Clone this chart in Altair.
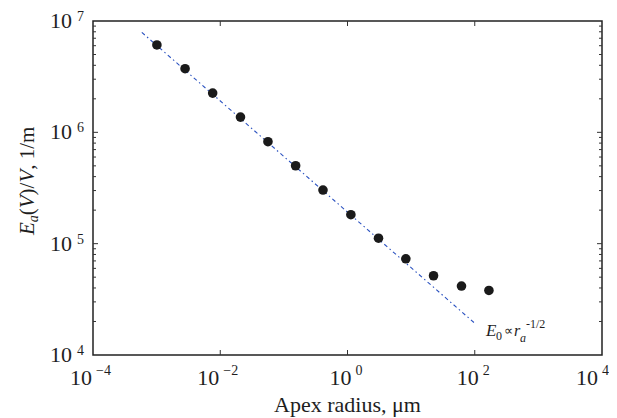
import altair as alt
import pandas as pd

# ---- data ----
radius = [0.00101, 0.0028, 0.0076, 0.0208, 0.0562, 0.153, 0.412, 1.13, 3.07, 8.26, 22.5, 61.9, 167]
field = [6.09e6, 3.73e6, 2.25e6, 1.37e6, 8.24e5, 5.01e5, 3.03e5, 1.82e5, 1.12e5, 7.31e4, 5.15e4, 4.16e4, 3.80e4]
fit_x = [5.85e-4, 103]
fit_y = [7.9e6, 1.9e4]

x_tick_vals = [1e-4, 1e-2, 1, 1e2, 1e4]
x_tick_exps = ["\u22124", "\u22122", "0", "2", "4"]
y_tick_vals = [1e4, 1e5, 1e6, 1e7]
y_tick_exps = ["4", "5", "6", "7"]
x_inner_ticks = [1e-2, 1, 1e2]
y_inner_major = [1e5, 1e6]
y_minor = [m * 10 ** d for d in (4, 5, 6) for m in range(2, 10)]

FONT = "Liberation Serif"
TXT = "#1e1e1e"
W, H = 509, 334

xs = alt.Scale(type="log", domain=[1e-4, 1e4], nice=False)
ys = alt.Scale(type="log", domain=[1e4, 1e7], nice=False)

pts_df = pd.DataFrame({"r": radius, "e": field})
fit_df = pd.DataFrame({"r": fit_x, "e": fit_y})
xl_df = pd.DataFrame({"v": x_tick_vals, "exp": x_tick_exps})
yl_df = pd.DataFrame({"v": y_tick_vals, "exp": y_tick_exps})

layers = []

# fitted power law line
layers.append(
    alt.Chart(fit_df).mark_line(color="#2b52c0", strokeWidth=1.1, strokeDash=[4, 3, 1.5, 3]).encode(
        x=alt.X("r:Q", scale=xs, axis=None), y=alt.Y("e:Q", scale=ys, axis=None)
    )
)
# data points
layers.append(
    alt.Chart(pts_df).mark_circle(size=92, color="#1a1a1a", opacity=1).encode(
        x=alt.X("r:Q", scale=xs, axis=None), y=alt.Y("e:Q", scale=ys, axis=None)
    )
)

# ticks (inward)
tick_col = "#333333"
xin = pd.DataFrame({"v": x_inner_ticks})
layers.append(alt.Chart(xin).mark_rule(color=tick_col).encode(
    x=alt.X("v:Q", scale=xs, axis=None), y=alt.value(H), y2=alt.value(H - 5)))
layers.append(alt.Chart(xin).mark_rule(color=tick_col).encode(
    x=alt.X("v:Q", scale=xs, axis=None), y=alt.value(0), y2=alt.value(5)))
yin = pd.DataFrame({"v": y_inner_major})
ymi = pd.DataFrame({"v": y_minor})
layers.append(alt.Chart(yin).mark_rule(color=tick_col).encode(
    y=alt.Y("v:Q", scale=ys, axis=None), x=alt.value(0), x2=alt.value(5)))
layers.append(alt.Chart(yin).mark_rule(color=tick_col).encode(
    y=alt.Y("v:Q", scale=ys, axis=None), x=alt.value(W), x2=alt.value(W - 5)))
layers.append(alt.Chart(ymi).mark_rule(color=tick_col).encode(
    y=alt.Y("v:Q", scale=ys, axis=None), x=alt.value(0), x2=alt.value(3)))
layers.append(alt.Chart(ymi).mark_rule(color=tick_col).encode(
    y=alt.Y("v:Q", scale=ys, axis=None), x=alt.value(W), x2=alt.value(W - 3)))

# x tick labels
groups = [
    (xl_df[xl_df.v < 1], -1, 3),
    (xl_df[(xl_df.v >= 1) & (xl_df.v < 1e3)], 4, 8),
    (xl_df[xl_df.v >= 1e3], -4, 0),
]
for sub, d10, dexp in groups:
    base = alt.Chart(sub).encode(x=alt.X("v:Q", scale=xs, axis=None))
    layers.append(base.mark_text(text="10", align="right", baseline="alphabetic", dx=d10,
                                 font=FONT, fontSize=22, color=TXT).encode(y=alt.value(H + 30)))
    layers.append(base.mark_text(align="left", baseline="alphabetic", dx=dexp,
                                 font=FONT, fontSize=14, color=TXT).encode(
        text="exp:N", y=alt.value(H + 20)))

# y tick labels
ybase = alt.Chart(yl_df).encode(y=alt.Y("v:Q", scale=ys, axis=None))
layers.append(ybase.mark_text(text="10", align="right", baseline="alphabetic", dy=7,
                              font=FONT, fontSize=22, color=TXT).encode(x=alt.value(-21)))
layers.append(ybase.mark_text(align="left", baseline="alphabetic", dy=0,
                              font=FONT, fontSize=14, color=TXT).encode(text="exp:N", x=alt.value(-16)))


def label(text, x, y, size, italic=False, angle=0, align="left"):
    return alt.Chart(pd.DataFrame({"t": [text]})).mark_text(
        font=FONT, fontSize=size, fontStyle="italic" if italic else "normal",
        angle=angle, align=align, baseline="alphabetic", color=TXT
    ).encode(text="t:N", x=alt.value(x), y=alt.value(y))


# x axis title
layers.append(label("Apex radius, \u03bcm", W / 2, H + 57, 22, align="center"))

# y axis title pieces (rotated, reading upward)
yx = -59
y0 = 214
pieces = [("E", True, 21, 0, 12.8), ("a", True, 14, 4, 7.0), ("(", False, 21, 0, 7.0),
          ("V", True, 21, 0, 12.8), (")/", False, 21, 0, 12.8), ("V", True, 21, 0, 12.8),
          (" , 1/m", False, 21, 0, 48.4)]
cur = y0
for t, it, sz, shift, w in pieces:
    layers.append(label(t, yx + shift, cur, sz, italic=it, angle=270))
    cur -= w

# annotation E0 ∝ r_a^{-1/2}
ann = pd.DataFrame({"r": [150], "e": [1.48e4]})
abase = alt.Chart(ann).encode(x=alt.X("r:Q", scale=xs, axis=None), y=alt.Y("e:Q", scale=ys, axis=None))
for t, it, sz, dx, dy in [("E", True, 17, 0, 0), ("0", False, 12, 10, 4), ("\u221d", False, 13, 18, -1),
                          ("r", True, 16, 28, 0), ("a", True, 12, 34, 6), ("-1/2", False, 12, 40, -8)]:
    layers.append(abase.mark_text(text=t, align="left", baseline="alphabetic", dx=dx, dy=dy,
                                  font=FONT, fontSize=sz, fontStyle="italic" if it else "normal",
                                  color=TXT))

chart = alt.layer(*layers).properties(
    width=W, height=H,
    padding={"left": 85, "top": 13, "right": 7, "bottom": 62},
    autosize=alt.AutoSizeParams(type="none"),
    background="white",
).configure_view(stroke="#222222", strokeWidth=1.5)

chart.save("out.html", embed_options={"renderer": "svg", "actions": False})
